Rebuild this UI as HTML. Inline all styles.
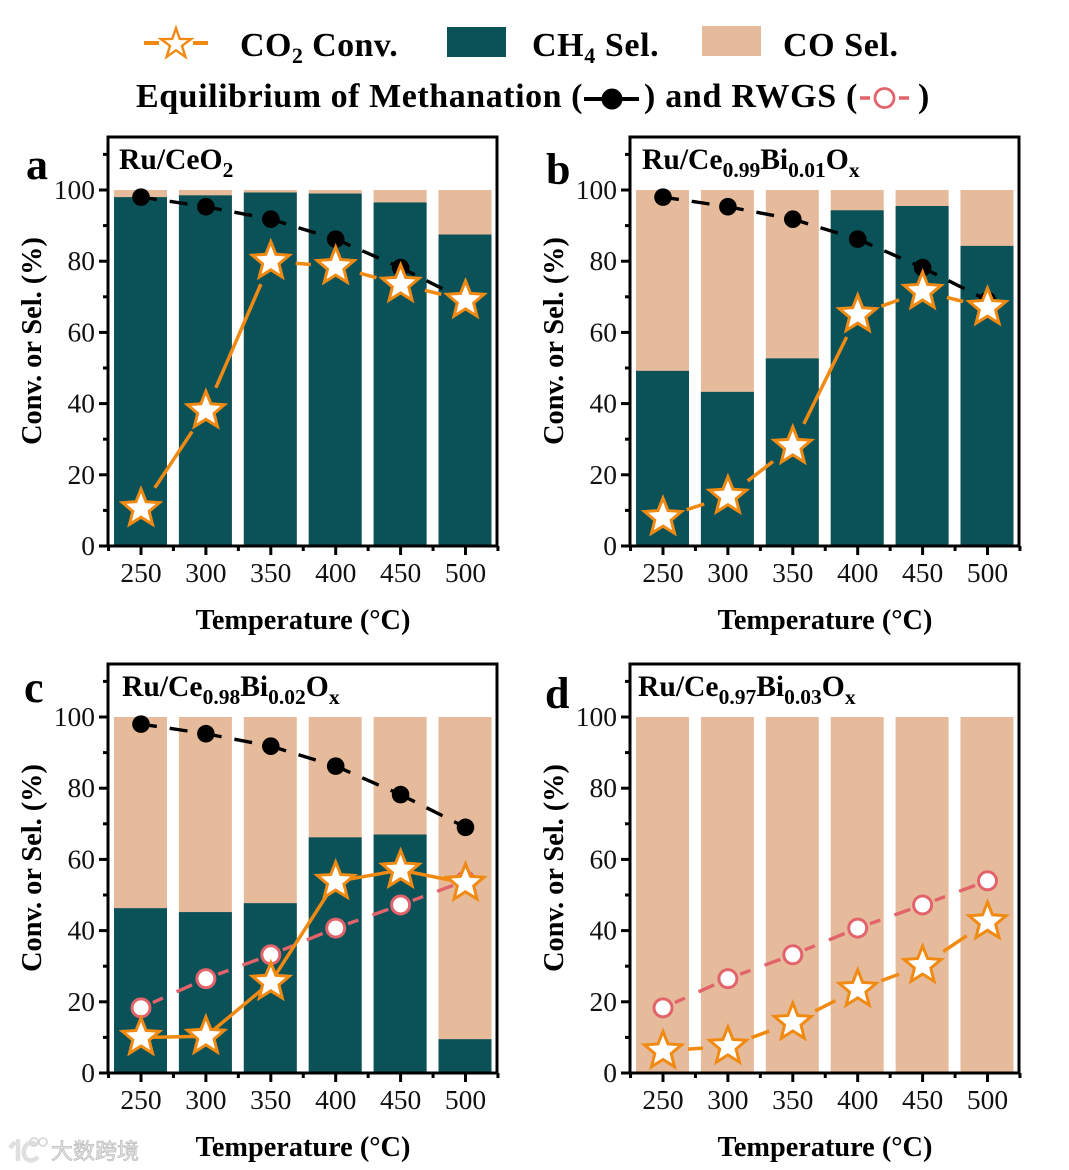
<!DOCTYPE html>
<html><head><meta charset="utf-8"><title>Catalyst conversion and selectivity</title>
<style>
html,body{margin:0;padding:0;background:#fff;width:1069px;height:1170px;overflow:hidden}
svg{display:block;font-family:"Liberation Serif","Noto Serif CJK SC",serif}
</style></head>
<body>
<svg id="fig" xmlns="http://www.w3.org/2000/svg" width="1069" height="1170" viewBox="0 0 1069 1170">
  <g id="legend" font-weight="bold" font-size="34" fill="#000">
    <g>
      <path d="M144 43h15M193 43h15" stroke="#f08a12" stroke-width="4"/>
      <polygon points="176,28 179.700,38.900 191.200,39 182,45.900 185.400,56.900 176,50.300 166.600,56.900 170,45.900 160.800,39 172.300,38.900" fill="#fff" stroke="#f08a12" stroke-width="2.400"/>
      <text x="240" y="56" letter-spacing="0.4">CO<tspan font-size="22" dy="7">2</tspan><tspan dy="-7"> Conv.</tspan></text>
    </g>
    <g>
      <rect x="447" y="27" width="59" height="30" fill="#0a5158"/>
      <text x="532" y="56" letter-spacing="0.6">CH<tspan font-size="22" dy="7">4</tspan><tspan dy="-7"> Sel.</tspan></text>
    </g>
    <g>
      <rect x="702" y="26" width="59" height="30" fill="#e6bb9b"/>
      <text x="783" y="56" letter-spacing="0.6">CO Sel.</text>
    </g>
    <g>
      <text x="136" y="107" letter-spacing="0.55">Equilibrium of Methanation (</text>
      <path d="M584 99h55" stroke="#000" stroke-width="4"/>
      <circle cx="612" cy="99" r="10.500" fill="#000"/>
      <text x="644" y="107" letter-spacing="0.7">) and RWGS (</text>
      <path d="M860 98h10M899 98h10" stroke="#e2636a" stroke-width="3.500"/>
      <circle cx="884.500" cy="98" r="9.500" fill="#fff" stroke="#e2636a" stroke-width="2.800"/>
      <text x="918" y="107">)</text>
    </g>
  </g>
  <g id="panels"></g>
  <g opacity="0.95">
    <path d="M15 1142 L10 1148 M18 1139 V1161 M37 1145 C27 1138 21 1150 25 1157 C28 1162 34 1161 38 1157" fill="none" stroke="#dedede" stroke-width="4.500"/>
    <circle cx="34" cy="1142" r="4" fill="none" stroke="#d6d6d6" stroke-width="1.800"/>
    <circle cx="43" cy="1142" r="4" fill="none" stroke="#d6d6d6" stroke-width="1.800"/>
    <text x="51" y="1159" font-size="22" fill="#e4e4e4" stroke="#b8b8b8" stroke-width="0.700" style='font-family:"Noto Sans CJK SC","Liberation Sans",sans-serif'>大数跨境</text>
  </g>
</svg>
<script>
var temperatures = [250, 300, 350, 400, 450, 500];
var yTicks = [0, 20, 40, 60, 80, 100];
var yMinorTicks = [10, 30, 50, 70, 90, 110];
var methanationEq = [98, 95.3, 91.8, 86.2, 78.2, 69];
var rwgsEq = [18.3, 26.5, 33.2, 40.7, 47.2, 54];
var ch4SelA = [98, 98.5, 99.3, 99, 96.5, 87.5];
var ch4SelB = [49.2, 43.3, 52.7, 94.3, 95.5, 84.3];
var ch4SelC = [46.3, 45.2, 47.7, 66.2, 67, 9.5];
var ch4SelD = [0, 0, 0, 0, 0, 0];
var co2ConvA = [10.5, 38, 80, 78.5, 73.5, 69];
var co2ConvB = [8, 14, 28, 65, 71.5, 67];
var co2ConvC = [10, 10.3, 25.5, 53.8, 57, 53.3];
var co2ConvD = [6.2, 7.5, 14.2, 23.5, 30.2, 42.5];
var totalSel = 100;

var NS = 'http://www.w3.org/2000/svg';
var root = document.getElementById('panels');

function make(parent, tag, attrs, name, text) {
  var el = document.createElementNS(NS, tag);
  for (var k in attrs) el.setAttribute(k, attrs[k]);
  
  
  if (text !== undefined) el.textContent = text;
  parent.appendChild(el);
  return el;
}

function starPoints(cx, cy, R) {
  var pts = [], r = R * 0.44;
  for (var i = 0; i < 10; i++) {
    var a = -Math.PI / 2 + i * Math.PI / 5, q = i % 2 ? r : R;
    pts.push((cx + q * Math.cos(a)).toFixed(1) + ',' + (cy + q * Math.sin(a)).toFixed(1));
  }
  return pts.join(' ');
}

function segments(g, xs, ys, gap, color, width, dash, offset, name) {
  for (var i = 0; i < xs.length - 1; i++) {
    var dx = xs[i + 1] - xs[i], dy = ys[i + 1] - ys[i], L = Math.hypot(dx, dy);
    if (L <= gap * 2) continue;
    var ux = dx / L, uy = dy / L;
    var attrs = {
      x1: xs[i] + ux * gap, y1: ys[i] + uy * gap,
      x2: xs[i + 1] - ux * gap, y2: ys[i + 1] - uy * gap,
      stroke: color, 'stroke-width': width
    };
    if (dash) {
      attrs['stroke-dasharray'] = dash;
      attrs['stroke-dashoffset'] = offset;
    }
    make(g, 'line', attrs, name);
  }
}

function drawPanel(cfg) {
  var L = cfg.left, B = cfg.bottom, R = L + 389, T = B - 409;
  var yS = function (v) { return B - v * 3.56; };
  var xS = function (i) { return L + 33 + i * 64.9; };
  var g = make(root, 'g', {}, 'panel-' + cfg.letter);

  var bars = make(g, 'g', {}, 'bars');
  temperatures.forEach(function (t, i) {
    var x = xS(i) - 27;
    make(bars, 'rect', { x: x, y: yS(totalSel), width: 53, height: yS(0) - yS(totalSel), fill: '#e6bb9b' }, 'co-sel-bar-' + t);
    var ch4 = cfg.ch4[i];
    if (ch4 > 0) make(bars, 'rect', { x: x, y: yS(ch4), width: 53, height: yS(0) - yS(ch4), fill: '#0a5158' }, 'ch4-sel-bar-' + t);
  });

  var xs = temperatures.map(function (t, i) { return xS(i); });

  if (cfg.showMethanation) {
    var mLine = make(g, 'g', {}, 'methanation-equilibrium-line');
    segments(mLine, xs, methanationEq.map(yS), 8, '#000', 3.4, '18 13', 10, 'methanation-segment');
    methanationEq.forEach(function (v, i) {
      make(g, 'circle', { cx: xS(i), cy: yS(v), r: 8.800, fill: '#000' }, 'methanation-point-' + temperatures[i]);
    });
  }
  if (cfg.showRwgs) {
    var rLine = make(g, 'g', {}, 'rwgs-equilibrium-line');
    segments(rLine, xs, rwgsEq.map(yS), 13, '#e2636a', 3.4, '17 15', 6, 'rwgs-segment');
    rwgsEq.forEach(function (v, i) {
      make(g, 'circle', { cx: xS(i), cy: yS(v), r: 9, fill: '#fff', stroke: '#e2636a', 'stroke-width': 3 }, 'rwgs-point-' + temperatures[i]);
    });
  }

  var cLine = make(g, 'g', {}, 'co2-conversion-line');
  segments(cLine, xs, cfg.conv.map(yS), cfg.gap, '#f08a12', 3.5, null, 0, 'co2-conversion-segment');
  cfg.conv.forEach(function (v, i) {
    make(g, 'polygon', { points: starPoints(xS(i), yS(v), 19.5), fill: '#fff', stroke: '#f08a12', 'stroke-width': 3, 'stroke-linejoin': 'miter' }, 'co2-conversion-point-' + temperatures[i]);
  });

  make(g, 'rect', { x: L, y: T, width: 389, height: 409, fill: 'none', stroke: '#000', 'stroke-width': 3 }, 'plot-frame');

  var yAxis = make(g, 'g', {}, 'y-axis');
  yTicks.forEach(function (v) {
    make(yAxis, 'line', { x1: L - 9, x2: L, y1: yS(v), y2: yS(v), stroke: '#000', 'stroke-width': 3 }, 'y-tick-' + v);
    make(yAxis, 'text', { x: L - 13, y: yS(v) + 9, 'text-anchor': 'end', 'font-size': 27.500, fill: '#111' }, 'y-tick-label-' + v, String(v));
  });
  yMinorTicks.forEach(function (v) {
    make(yAxis, 'line', { x1: L - 5, x2: L, y1: yS(v), y2: yS(v), stroke: '#000', 'stroke-width': 3 }, 'y-minor-tick-' + v);
  });
  make(yAxis, 'text', { transform: 'translate(' + (L - 67) + ',' + (yS(0) - 205) + ') rotate(-90)', 'text-anchor': 'middle', 'font-size': 28.3, 'font-weight': 'bold' }, 'y-axis-title', 'Conv. or Sel. (%)');

  var xAxis = make(g, 'g', {}, 'x-axis');
  temperatures.forEach(function (t, i) {
    make(xAxis, 'line', { x1: xS(i), x2: xS(i), y1: B, y2: B + 9, stroke: '#000', 'stroke-width': 3 }, 'x-tick-' + t);
    make(xAxis, 'text', { x: xS(i), y: B + 36, 'text-anchor': 'middle', 'font-size': 27.500, fill: '#111' }, 'x-tick-label-' + t, String(t));
  });
  for (var m = 0; m <= temperatures.length; m++) {
    var mx = xS(m) - 32.45;
    make(xAxis, 'line', { x1: mx, x2: mx, y1: B, y2: B + 5, stroke: '#000', 'stroke-width': 3 }, 'x-minor-tick');
  }
  make(xAxis, 'text', { x: L + 195, y: B + 83, 'text-anchor': 'middle', 'font-size': 28.3, 'font-weight': 'bold' }, 'x-axis-title', 'Temperature (°C)');

  make(g, 'text', { x: cfg.letterX, y: cfg.letterY, 'font-size': 44, 'font-weight': 'bold' }, 'panel-letter', cfg.letter);

  var title = make(g, 'text', { x: cfg.titleX, y: T + 32, 'font-size': 29.6, 'font-weight': 'bold' }, 'panel-title');
  cfg.title.forEach(function (part, i) {
    var s = document.createElementNS(NS, 'tspan');
    s.textContent = part;
    var isSub = i % 2 === 1, wasSub = i % 2 === 0 && i > 0;
    if (isSub) { s.setAttribute('font-size', '21.5'); s.setAttribute('dy', '8'); }
    if (wasSub) s.setAttribute('dy', '-8');
    title.appendChild(s);
  });
}

drawPanel({ letter: 'a', left: 108, bottom: 546, ch4: ch4SelA, conv: co2ConvA, gap: 25, showMethanation: true, showRwgs: false, title: ['Ru/CeO', '2'], titleX: 119, letterX: 26, letterY: 179 });
drawPanel({ letter: 'b', left: 630, bottom: 546, ch4: ch4SelB, conv: co2ConvB, gap: 25, showMethanation: true, showRwgs: false, title: ['Ru/Ce', '0.99', 'Bi', '0.01', 'O', 'x'], titleX: 642, letterX: 546, letterY: 184 });
drawPanel({ letter: 'c', left: 108, bottom: 1073, ch4: ch4SelC, conv: co2ConvC, gap: 4, showMethanation: true, showRwgs: true, title: ['Ru/Ce', '0.98', 'Bi', '0.02', 'O', 'x'], titleX: 122, letterX: 24, letterY: 702 });
drawPanel({ letter: 'd', left: 630, bottom: 1073, ch4: ch4SelD, conv: co2ConvD, gap: 25, showMethanation: false, showRwgs: true, title: ['Ru/Ce', '0.97', 'Bi', '0.03', 'O', 'x'], titleX: 638, letterX: 545, letterY: 708 });
</script>
</body></html>
